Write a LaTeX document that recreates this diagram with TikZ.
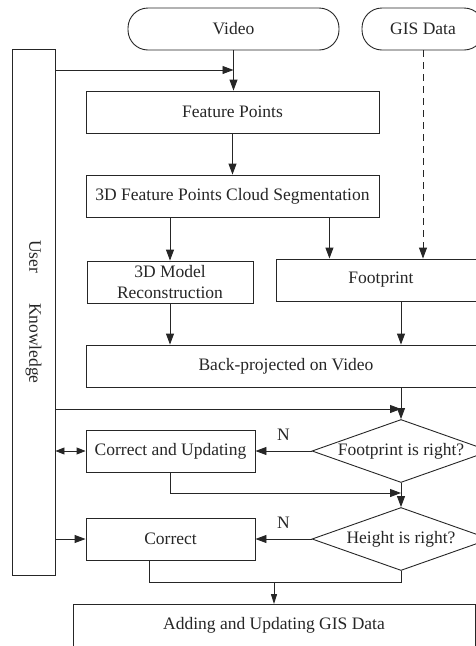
\documentclass[tikz,border=0pt]{standalone}
\usepackage{fontspec}
\setmainfont{Liberation Serif}
\usepackage{tikz}
\usetikzlibrary{shapes.geometric,arrows.meta}

\begin{document}
\begin{tikzpicture}
    [x=1pt, y=-1pt, line width=0.9pt, color=black!85,
    font=\fontsize{17.5}{21}\selectfont,
    box/.style={draw, rectangle, minimum height=42pt, align=center, inner sep=2pt},
    term/.style={box, rounded corners=20pt},
    test/.style={draw, diamond, shape aspect=2.8, inner sep=0pt, minimum width=178pt, minimum height=63pt},
    arr/.style={-{Triangle[length=11pt,width=8pt]}},
    arrsmall/.style={-{Triangle[length=10pt,width=6pt]}},
    arrboth/.style={{Triangle[length=9pt,width=7pt]}-{Triangle[length=9pt,width=7pt]}}]

\clip (0,0) rectangle (476,646);

\node[term, minimum width=211pt] (video) at (233.5,29) {Video};
\node[term, minimum width=122pt] (gis) at (423,29) {GIS Data};
\node[box, minimum width=43pt, minimum height=526pt,
    label={[rotate=-90]center:User\hspace{1.7em}Knowledge}] (user) at (33.5,312) {};
\node[box, minimum width=293pt] (feat) at (232.5,112) {Feature Points};
\node[box, minimum width=293pt] (seg) at (232.5,196) {3D Feature Points Cloud Segmentation};
\node[box, minimum width=166pt] (model) at (170,282) {3D Model\\Reconstruction};
\node[box, minimum width=210pt] (foot) at (381,280) {Footprint};
\node[box, minimum width=400pt] (back) at (286,366) {Back-projected on Video};
\node[test] (dfoot) at (401,451) {Footprint is right?};
\node[box, minimum width=169pt] (cupd) at (170.5,451) {Correct and Updating};
\node[test] (dheight) at (401,539) {Height is right?};
\node[box, minimum width=169pt] (corr) at (170.5,539) {Correct};
\node[box, minimum width=402pt] (add) at (274,625.5) {Adding and Updating GIS Data};

\coordinate (vj) at (233.5,70);
\coordinate (bj) at (401,409);
\coordinate (cj) at (401,493);
\coordinate (aj) at (274,582);

\draw[arr] (video.south) -- (video.south |- feat.north);
\draw[arr] (user.east |- vj) -- (vj);
\draw[arr] (feat.south) -- (seg.north);
\draw[arr] (model.north |- seg.south) -- (model.north);
\draw[arr] ([xshift=-50pt]seg.south east) -- ([xshift=-50pt]seg.south east |- foot.north);
\draw[arr, dash pattern=on 7pt off 5pt] (gis.south) -- (gis.south |- foot.north);
\draw[arr] (model.south) -- (model.south |- back.north);
\draw[arr] (dfoot.north |- foot.south) -- (dfoot.north |- back.north);
\draw[arr] (dfoot.north |- back.south) -- (dfoot.north);
\draw[arr] (user.east |- bj) -- (bj);
\draw[arr] (dfoot.west) -- node[above=7pt]{N} (cupd.east);
\draw[arrboth] (user.east |- cupd.west) -- (cupd.west);
\draw[arr] (cupd.south) |- (cj);
\draw[arr] (dfoot.south) -- (dheight.north);
\draw[arr] (user.east |- corr.west) -- (corr.west);
\draw[arr] (dheight.west) -- node[above=7pt]{N} (corr.east);
\draw ([xshift=-21.5pt]corr.south) |- (dheight.south |- aj) -- (dheight.south);
\draw[arrsmall] (aj) -- (add.north);
\end{tikzpicture}
\end{document}
